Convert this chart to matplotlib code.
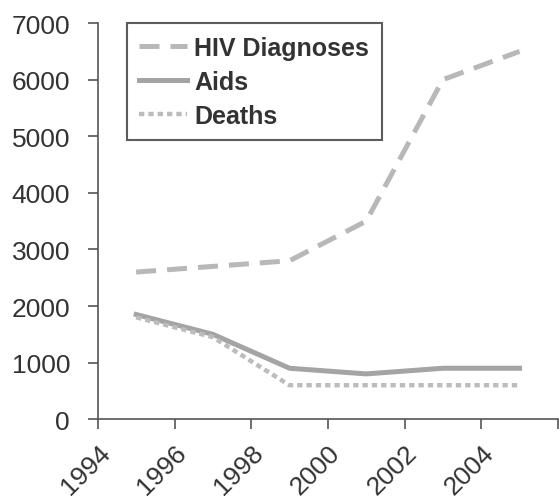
import matplotlib.pyplot as plt

years = [1995, 1997, 1999, 2001, 2003, 2005]
hiv = [2600, 2700, 2800, 3500, 6000, 6500]
aids = [1850, 1500, 900, 800, 900, 900]
deaths = [1800, 1450, 600, 600, 600, 600]

plt.rcParams['font.family'] = ['Liberation Sans', 'DejaVu Sans']

fig = plt.figure(figsize=(5.59, 5.02), dpi=100)
ax = fig.add_axes([0.175, 0.163, 0.823, 0.789])

ax.plot(years, hiv, color='#b8b8b8', lw=3.6, dashes=(4, 2.2), label='HIV Diagnoses')
ax.plot(years, aids, color='#a4a4a4', lw=3.6, label='Aids')
ax.plot(years, deaths, color='#bcbcbc', lw=3.2, dashes=(1.2, 0.9), label='Deaths')

ax.set_xlim(1994, 2006)
ax.set_ylim(0, 7000)
ax.set_xticks(range(1994, 2007, 2))
ax.set_xticklabels(['1994', '1996', '1998', '2000', '2002', '2004', ''],
                   rotation=45, ha='right', rotation_mode='anchor')
ax.set_yticks(range(0, 7001, 1000))
for s in ['top', 'right']:
    ax.spines[s].set_visible(False)
for s in ['left', 'bottom']:
    ax.spines[s].set_color('#555555')
    ax.spines[s].set_linewidth(1.2)
ax.tick_params(direction='out', length=7, width=1.2, color='#555555',
               labelsize=19, labelcolor='#333333')
ax.tick_params(axis='y', pad=13)
ax.tick_params(axis='x', pad=8)

leg = ax.legend(loc='upper left', bbox_to_anchor=(0.063, 1.0), borderaxespad=0,
                frameon=True, fancybox=False, edgecolor='#333333', handlelength=1.9,
                handletextpad=0.3, labelspacing=0.4, borderpad=0.5,
                prop={'weight': 'bold', 'size': 18})
leg.get_frame().set_linewidth(1.5)
for t in leg.get_texts():
    t.set_color('#333333')

fig.savefig('out.png', dpi=100)
